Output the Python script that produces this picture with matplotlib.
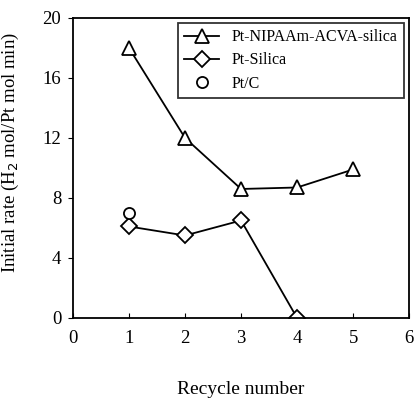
import matplotlib.pyplot as plt

plt.rcParams['font.family'] = ['Liberation Serif', 'DejaVu Serif']

cycles_nipaam = [1, 2, 3, 4, 5]
rate_nipaam = [18.0, 12.0, 8.6, 8.7, 9.9]
cycles_silica = [1, 2, 3, 4]
rate_silica = [6.1, 5.5, 6.5, 0.0]
cycles_ptc = [1]
rate_ptc = [7.0]

fig = plt.figure(figsize=(4.16, 4.04), dpi=100)
ax = fig.add_axes([0.1755, 0.2129, 0.808, 0.7426])

mk = dict(markersize=10.5, markerfacecolor="white", markeredgecolor="black",
          markeredgewidth=1.3, color="black", linewidth=1.3)
ax.plot(cycles_nipaam, rate_nipaam, marker="^", label="Pt-NIPAAm-ACVA-silica", **mk)
ax.plot(cycles_silica, rate_silica, marker="D", label="Pt-Silica",
        **{**mk, "markersize": 8})
ax.plot(cycles_ptc, rate_ptc, marker="o", linestyle="none", label="Pt/C",
        **{**mk, "markersize": 8})

ax.set_xlim(0, 6)
ax.set_ylim(0, 20)
ax.set_xticks(range(0, 7))
ax.set_yticks([0, 4, 8, 12, 16, 20])
ax.tick_params(axis="x", direction="in", labelsize=13.5, pad=9)
ax.tick_params(axis="y", direction="out", labelsize=13.5, pad=5)
for s in ax.spines.values():
    s.set_linewidth(1.3)

ax.set_xlabel("Recycle number", fontsize=14, labelpad=24)
ax.set_ylabel("Initial rate (H$_2$ mol/Pt mol min)", fontsize=13.5)
ax.yaxis.set_label_coords(-0.155, 0.55)

leg = ax.legend(loc="upper right", fontsize=11.5, frameon=True, fancybox=False,
                edgecolor="black", borderaxespad=0.3, handlelength=2.2,
                labelspacing=0.45, borderpad=0.4)
leg.get_frame().set_linewidth(1.3)

fig.savefig("out.png", dpi=100)
